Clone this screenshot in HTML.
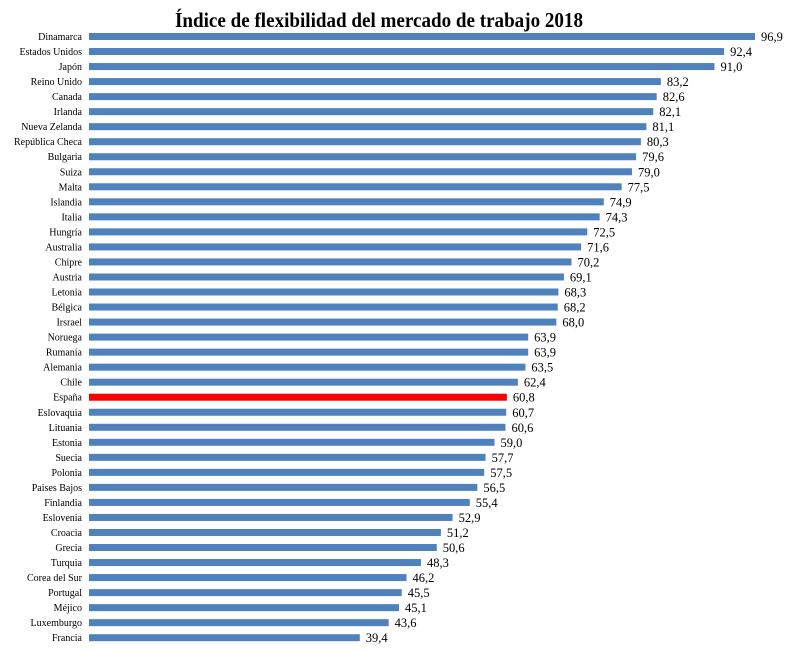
<!DOCTYPE html>
<html><head><meta charset="utf-8"><style>
body{margin:0;background:#fff;}
svg text{font-family:"Liberation Serif",serif;}
</style></head><body>
<svg width="798" height="655">
<text x="175" y="27" font-size="21" font-weight="bold" textLength="408" lengthAdjust="spacingAndGlyphs">Índice de flexibilidad del mercado de trabajo 2018</text>
<g id="bars"></g>
</svg>
<script>
const countries=["Dinamarca","Estados Unidos","Japón","Reino Unido","Canada","Irlanda","Nueva Zelanda","República Checa","Bulgaria","Suiza","Malta","Islandia","Italia","Hungría","Australia","Chipre","Austria","Letonia","Bélgica","Irsrael","Noruega","Rumanía","Alemania","Chile","España","Eslovaquia","Lituania","Estonia","Suecia","Polonia","Paises Bajos","Finlandia","Eslovenia","Croacia","Grecia","Turquia","Corea del Sur","Portugal","Méjico","Luxemburgo","Francia"];
const values=[96.9,92.4,91.0,83.2,82.6,82.1,81.1,80.3,79.6,79.0,77.5,74.9,74.3,72.5,71.6,70.2,69.1,68.3,68.2,68.0,63.9,63.9,63.5,62.4,60.8,60.7,60.6,59.0,57.7,57.5,56.5,55.4,52.9,51.2,50.6,48.3,46.2,45.5,45.1,43.6,39.4];
const highlight="España";
const x0=89,xs=v=>x0+v*6.873;
const yc=i=>36.5+i*15.03;
const g=document.getElementById('bars');
const NS="http://www.w3.org/2000/svg";
countries.forEach((c,i)=>{
  const r=document.createElementNS(NS,'rect');
  r.setAttribute('x',x0);r.setAttribute('y',yc(i)-3.5);
  r.setAttribute('width',xs(values[i])-x0);r.setAttribute('height',7);
  r.setAttribute('fill',c===highlight?'#ff0000':'#4f81bd');
  
  
  g.appendChild(r);
  const l=document.createElementNS(NS,'text');
  l.setAttribute('x',82);l.setAttribute('y',yc(i)+3.5);
  l.setAttribute('text-anchor','end');l.setAttribute('font-size','10');
  l.textContent=c;
  
  
  g.appendChild(l);
  const v=document.createElementNS(NS,'text');
  v.setAttribute('x',xs(values[i])+6);v.setAttribute('y',yc(i)+4.5);
  v.setAttribute('font-size','12.5');
  v.textContent=values[i].toFixed(1).replace('.',',');
  
  
  g.appendChild(v);
});
</script>
</body></html>
